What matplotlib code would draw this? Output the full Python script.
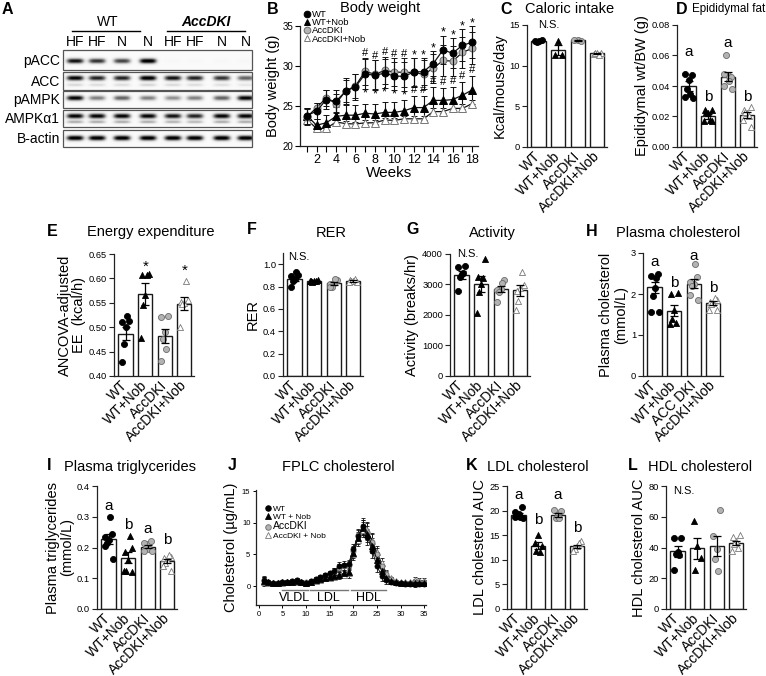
import numpy as np
import matplotlib
matplotlib.use('Agg')
import matplotlib.pyplot as plt
from matplotlib.lines import Line2D

plt.rcParams['font.family'] = ['Liberation Sans', 'DejaVu Sans']

# ---------------- data ----------------
groups = ['WT', 'WT+Nob', 'AccDKI', 'AccDKI+Nob']
groups_h = ['WT', 'WT+Nob', 'ACC DKI', 'AccDKI+Nob']

# A: western blot band darkness per lane
lane_labels = ['HF', 'HF', 'N', 'N', 'HF', 'HF', 'N', 'N']
blot_rows = ['pACC', 'ACC', 'pAMPK', 'AMPKα1', 'B-actin']
band_pacc = [0.85, 0.75, 0.70, 0.95, 0.02, 0.02, 0.02, 0.02]
band_acc = [0.90, 0.80, 0.80, 0.95, 0.85, 0.80, 0.75, 0.60]
band_pampk = [0.90, 0.50, 0.60, 0.50, 0.45, 0.50, 0.60, 0.90]
band_ampk = [0.90, 0.90, 0.90, 0.90, 0.85, 0.80, 0.90, 0.90]
band_actin = [0.95, 0.95, 0.95, 0.95, 0.95, 0.95, 0.95, 0.95]

# B: body weight
weeks = np.arange(1, 19)
bw_wt = [23.8, 24.35, 25.8, 25.6, 26.85, 27.4, 29.0, 28.85, 29.1, 28.75, 28.7, 29.25, 29.3, 30.3, 32.0, 31.6, 32.6, 32.95]
bw_wtnob = [23.8, 22.6, 22.9, 23.7, 23.85, 23.85, 24.1, 24.0, 24.2, 24.2, 24.4, 24.8, 24.8, 25.7, 25.7, 25.8, 26.35, 27.0]
bw_acc = [23.6, 24.8, 26.0, 25.3, 26.9, 27.5, 29.35, 28.95, 29.45, 29.25, 29.2, 29.2, 28.95, 29.7, 30.7, 30.6, 31.7, 32.2]
bw_accnob = [23.3, 22.2, 22.2, 23.0, 22.8, 22.75, 22.9, 22.9, 23.25, 23.2, 23.4, 23.4, 23.4, 24.3, 24.3, 24.7, 24.7, 25.3]
bw_wt_err = [1.0, 1.0, 1.2, 1.4, 1.6, 1.6, 1.9, 1.9, 1.8, 1.8, 1.8, 1.7, 1.7, 1.6, 1.8, 1.9, 2.0, 2.0]
bw_wtnob_err = [1.0, 0.8, 1.0, 1.2, 1.3, 1.3, 1.2, 1.3, 1.3, 1.3, 1.3, 1.5, 1.5, 1.7, 1.6, 1.6, 1.7, 1.8]
bw_acc_err = [1.0, 0.6, 1.0, 1.2, 1.4, 1.5, 1.7, 1.8, 1.7, 1.7, 1.8, 1.8, 1.8, 1.8, 1.9, 1.9, 1.9, 2.0]
bw_accnob_err = [0.5, 0.5, 0.4, 0.3, 0.3, 0.3, 0.3, 0.3, 0.3, 0.3, 0.3, 0.4, 0.4, 0.4, 0.4, 0.5, 0.5, 0.5]
bw_top_mark = ['', '', '', '', '', '', '#', '#', '#', '#', '#', '*', '*', '*', '*', '*', '*', '*']
bw_mid_mark = ['', '', '', '', '', '', '*', '*', '*', '*', '*', '#', '#', '#', '#', '#', '#', '#']

# C: caloric intake
cal_means = [13.0, 11.9, 13.1, 11.5]
cal_sems = [0.1, 0.6, 0.1, 0.1]
cal_pts = [[13.0, 13.0, 13.1, 12.9], [13.0, 11.3, 11.3], [13.1, 13.2, 13.0], [11.5, 11.4, 11.6, 11.5, 11.3]]

# D: epididymal fat
fat_means = [0.040, 0.020, 0.046, 0.021]
fat_sems = [0.0035, 0.0015, 0.003, 0.0017]
fat_pts = [[0.044, 0.048, 0.047, 0.038, 0.035, 0.033, 0.032],
           [0.022, 0.024, 0.024, 0.023, 0.018, 0.017, 0.017],
           [0.047, 0.048, 0.046, 0.060, 0.043, 0.040, 0.038],
           [0.022, 0.024, 0.026, 0.023, 0.020, 0.018, 0.013]]

# E: energy expenditure
ee_means = [0.487, 0.568, 0.482, 0.548]
ee_sems = [0.014, 0.022, 0.015, 0.013]
ee_pts = [[0.500, 0.510, 0.512, 0.465, 0.523, 0.428],
          [0.565, 0.607, 0.609, 0.545, 0.606, 0.478],
          [0.490, 0.520, 0.522, 0.475, 0.455, 0.430],
          [0.550, 0.552, 0.555, 0.548, 0.595, 0.500]]

# F: RER
rer_means = [0.87, 0.85, 0.83, 0.85]
rer_sems = [0.018, 0.005, 0.012, 0.005]
rer_pts = [[0.87, 0.89, 0.90, 0.85, 0.93, 0.80],
           [0.85, 0.85, 0.86, 0.84, 0.85, 0.85],
           [0.83, 0.82, 0.86, 0.80, 0.87, 0.80],
           [0.85, 0.86, 0.84, 0.85, 0.87, 0.84]]

# G: activity
act_means = [3310, 3010, 2840, 2810]
act_sems = [120, 260, 100, 180]
act_pts = [[3350, 3580, 3600, 3260, 3380, 2780],
           [3000, 3250, 3850, 2750, 3200, 2050],
           [2840, 2820, 3150, 2765, 3040, 2440],
           [2900, 2800, 2980, 2450, 3420, 2150]]

# H: plasma cholesterol
chol_means = [2.16, 1.59, 2.25, 1.77]
chol_sems = [0.14, 0.13, 0.11, 0.05]
chol_pts = [[2.15, 2.45, 2.50, 1.95, 2.38, 1.57, 1.57],
            [1.60, 2.00, 2.02, 1.40, 1.30, 1.28],
            [2.25, 2.30, 2.42, 2.20, 2.72, 1.98, 1.85],
            [1.78, 1.80, 1.85, 1.75, 1.90, 1.62, 1.60]]

# I: plasma triglycerides
tg_means = [0.227, 0.166, 0.203, 0.155]
tg_sems = [0.016, 0.018, 0.005, 0.007]
tg_pts = [[0.225, 0.235, 0.245, 0.215, 0.300, 0.205, 0.162],
          [0.160, 0.185, 0.200, 0.125, 0.238, 0.122, 0.120],
          [0.210, 0.215, 0.220, 0.200, 0.195, 0.190, 0.190],
          [0.160, 0.165, 0.170, 0.150, 0.175, 0.140, 0.125]]

# J: FPLC cholesterol
fractions = np.arange(1, 36)
fplc_wt = [0.9, 0.6, 0.5, 0.5, 0.6, 0.7, 0.8, 0.9, 0.6, 0.5, 0.8, 1.1, 1.4, 1.7, 2.0, 2.4, 3.2, 3.4, 3.5, 5.8, 7.9, 9.5, 7.8, 5.6, 3.2, 1.6, 0.9, 0.6, 0.5, 0.5, 0.4, 0.4, 0.4, 0.4, 0.4]
fplc_wtnob = [0.8, 0.6, 0.5, 0.5, 0.6, 0.6, 0.7, 0.8, 0.6, 0.5, 0.7, 0.9, 1.1, 1.3, 1.4, 1.6, 1.8, 2.0, 2.3, 5.3, 7.6, 9.2, 8.2, 6.4, 4.2, 2.4, 1.3, 0.8, 0.6, 0.5, 0.5, 0.5, 0.5, 0.5, 0.5]
fplc_acc = [0.8, 0.6, 0.5, 0.5, 0.6, 0.7, 0.8, 0.9, 0.7, 0.6, 0.8, 1.1, 1.4, 1.7, 2.0, 2.3, 2.9, 3.1, 3.3, 5.6, 8.0, 9.3, 8.6, 7.0, 5.0, 3.2, 1.9, 1.1, 0.7, 0.5, 0.5, 0.5, 0.6, 0.6, 0.6]
fplc_accnob = [0.7, 0.5, 0.5, 0.5, 0.5, 0.6, 0.7, 0.7, 0.6, 0.5, 0.6, 0.8, 1.0, 1.2, 1.3, 1.5, 1.7, 1.8, 2.0, 5.0, 7.3, 8.9, 8.8, 7.2, 5.4, 3.6, 2.1, 1.2, 0.8, 0.6, 0.6, 0.6, 0.9, 0.8, 0.8]
fplc_err = [0.7, 0.2, 0.2, 0.2, 0.2, 0.3, 0.3, 0.3, 0.2, 0.2, 0.2, 0.3, 0.3, 0.3, 0.4, 0.5, 0.6, 0.6, 0.7, 0.8, 1.0, 1.2, 1.3, 1.2, 1.0, 0.8, 0.5, 0.3, 0.2, 0.2, 0.2, 0.2, 0.5, 0.4, 0.4]
fplc_regions = ['VLDL', 'LDL', 'HDL']
fplc_region_bounds = [(4.85, 10.4), (10.8, 18.8), (19.5, 26.9)]

# K: LDL AUC
ldl_means = [19.2, 12.9, 19.2, 12.8]
ldl_sems = [0.3, 0.8, 0.4, 0.3]
ldl_pts = [[19.3, 19.8, 20.8, 19.0, 18.8, 18.6, 18.4],
           [15.0, 13.5, 12.8, 11.8, 11.5],
           [19.2, 20.1, 20.0, 18.5, 18.4],
           [12.8, 12.5, 13.8, 12.2, 13.5, 11.8]]

# L: HDL AUC
hdl_means = [37.5, 39.4, 41.0, 43.0]
hdl_sems = [3.4, 6.7, 6.8, 1.4]
hdl_pts = [[37.0, 46.0, 46.5, 35.5, 35.0, 25.5],
           [41.2, 57.5, 33.4, 25.4],
           [39.0, 47.7, 64.4, 32.5, 25.0],
           [44.0, 47.0, 48.0, 42.0, 40.0, 38.0]]

# ---------------- style ----------------
W, H = 766, 676
fig = plt.figure(figsize=(W / 100, H / 100), dpi=100)

styles = [dict(marker='o', fc='black', ec='black'),
          dict(marker='^', fc='black', ec='black'),
          dict(marker='o', fc='#b3b3b3', ec='#6a6a6a'),
          dict(marker='^', fc='white', ec='#7a7a7a')]
jitter = np.array([0.0, -0.17, 0.17, -0.09, 0.09, -0.2, 0.2])


def px_axes(x0, y0, x1, y1):
    return fig.add_axes([x0 / W, 1 - y1 / H, (x1 - x0) / W, (y1 - y0) / H])


def style_axes(ax):
    for s in ['top', 'right']:
        ax.spines[s].set_visible(False)
    for s in ['left', 'bottom']:
        ax.spines[s].set_linewidth(0.9)
        ax.spines[s].set_color('#222222')


BARW = 80  # px for xlim (-0.6, 3.5)


def bar_panel(x0, y0, y1, means, sems, pts, ylim, yticks, yfmt, ylabel,
              labels=groups, letters=None, letter_y=None, ns=None, stars=None):
    ax = px_axes(x0, y0, x0 + BARW, y1)
    style_axes(ax)
    x = np.arange(4)
    ax.bar(x, means, width=0.74, color='white', edgecolor='#1a1a1a', linewidth=1.0, zorder=1)
    for i in range(4):
        p = np.array(pts[i])
        st = styles[i]
        ax.scatter(i + jitter[:len(p)], p, s=19, marker=st['marker'], facecolor=st['fc'],
                   edgecolor=st['ec'], linewidth=0.6, zorder=3, clip_on=False)
    ax.errorbar(x, means, yerr=sems, fmt='none', ecolor='black', elinewidth=0.9,
                capsize=3, capthick=0.9, zorder=4)
    ax.set_xlim(-0.6, 3.5)
    ax.set_ylim(*ylim)
    ax.set_yticks(yticks)
    ax.set_yticklabels([yfmt.format(v) for v in yticks])
    ax.set_xticks(x)
    ax.set_xticklabels(labels, rotation=45, ha='right', va='center', rotation_mode='anchor')
    ax.tick_params(axis='y', labelsize=6.7, length=3.5, width=0.8, pad=1.5, color='#222222')
    ax.tick_params(axis='x', labelsize=10, length=0, pad=5)
    ax.set_ylabel(ylabel, fontsize=10.5, labelpad=2, linespacing=1.05)
    if letters is not None:
        for i, (t, yy) in enumerate(zip(letters, letter_y)):
            ax.text(i, yy, t, ha='center', va='center', fontsize=11)
    if ns is not None:
        ax.text(ns[0], ns[1], 'N.S.', ha='center', va='center', fontsize=8)
    if stars is not None:
        for i, yy in stars:
            ax.text(i, yy, '*', ha='center', va='center', fontsize=11)
    return ax


# overlay axes for free text and the blot
ov = fig.add_axes([0, 0, 1, 1])
ov.axis('off')

# ---------------- A: western blot ----------------
lane_x = [75, 97, 122, 148, 173, 195, 222, 246]
row_boxes = [(50, 70), (72, 90), (91, 108), (110, 127), (130, 147)]
row_bands = [band_pacc, band_acc, band_pampk, band_ampk, band_actin]
band_center = [61, 78, 98, 116, 138]
second_band = [None, (85, 0.25), None, (122, 0.45), None]
bx0, bx1 = 63, 252
for (y0, y1), inten, bc, sb in zip(row_boxes, row_bands, band_center, second_band):
    xs = np.linspace(bx0, bx1, 380)
    ys = np.linspace(y0, y1, 60)
    X, Y = np.meshgrid(xs, ys)
    img = np.full_like(X, 0.04)
    for lx, v in zip(lane_x, inten):
        hprof = np.exp(-((X - lx) / 8.8) ** 4)
        img += 1.1 * v * hprof * np.exp(-((Y - bc) / 2.7) ** 2)
        if sb is not None:
            img += v * sb[1] * hprof * np.exp(-((Y - sb[0]) / 1.6) ** 2)
    img = np.clip(img, 0, 1)
    ov.imshow(img, cmap='Greys', vmin=0, vmax=1, extent=(bx0, bx1, y1, y0),
              aspect='auto', interpolation='bilinear', origin='upper')
    ov.add_patch(plt.Rectangle((bx0, y0), bx1 - bx0, y1 - y0, fill=False,
                               edgecolor='#555555', linewidth=0.9))
for name, (y0, y1) in zip(blot_rows, row_boxes):
    ov.text(60, (y0 + y1) / 2 + 0.5, name, ha='right', va='center', fontsize=10)
for lx, lab in zip(lane_x, lane_labels):
    ov.text(lx, 41.5, lab, ha='center', va='center', fontsize=10)
ov.text(108, 22, 'WT', ha='center', va='center', fontsize=10)
ov.text(206, 22, 'AccDKI', ha='center', va='center', fontsize=10, style='italic', fontweight='bold')
ov.plot([72, 140], [31, 31], color='black', lw=1.0)
ov.plot([167, 245], [31, 31], color='black', lw=1.0)

# ---------------- B: body weight ----------------
axB = px_axes(300, 26, 478, 146)
style_axes(axB)
bw_series = [(bw_wt, bw_wt_err), (bw_wtnob, bw_wtnob_err), (bw_acc, bw_acc_err), (bw_accnob, bw_accnob_err)]
for k in [3, 1, 2, 0]:
    v, e = bw_series[k]
    st = styles[k]
    axB.errorbar(weeks, v, yerr=e, color='#111111', lw=0.9, elinewidth=0.8, capsize=2.2,
                 capthick=0.8, marker=st['marker'], ms=5 if st['marker'] == 'o' else 5.5,
                 mfc=st['fc'], mec=st['ec'] if k != 3 else '#777777', mew=0.7, zorder=3 + (k == 0))
wt_a, acc_a = np.array(bw_wt), np.array(bw_acc)
wte, acce = np.array(bw_wt_err), np.array(bw_acc_err)
nob_a, nobe = np.array(bw_wtnob), np.array(bw_wtnob_err)
for i, wk in enumerate(weeks):
    top = max(wt_a[i] + wte[i], acc_a[i] + acce[i])
    if bw_top_mark[i]:
        axB.text(wk, top + (0.55 if bw_top_mark[i] == '#' else 0.35), bw_top_mark[i],
                 ha='center', va='center', fontsize=8 if bw_top_mark[i] == '#' else 9)
    if bw_mid_mark[i] == '*':
        low = min(wt_a[i] - wte[i], acc_a[i] - acce[i])
        axB.text(wk, low - 0.55, '*', ha='center', va='center', fontsize=9)
    elif bw_mid_mark[i] == '#':
        axB.text(wk, nob_a[i] + nobe[i] + 0.75, '#', ha='center', va='center', fontsize=8)
axB.set_xlim(0.3, 18.6)
axB.set_ylim(20, 35)
axB.set_yticks([20, 25, 30, 35])
axB.set_xticks(np.arange(2, 19, 2))
axB.set_xticks(np.arange(1, 19, 2), minor=True)
axB.tick_params(axis='y', labelsize=7, length=3.5, width=0.8, pad=1.5)
axB.tick_params(axis='x', which='major', labelsize=9, length=4, width=0.8, pad=2)
axB.tick_params(axis='x', which='minor', length=4, width=0.8)
axB.set_xlabel('Weeks', fontsize=11, labelpad=0)
axB.set_ylabel('Body weight (g)', fontsize=10.5, labelpad=2)
hB = [Line2D([], [], ls='none', marker=s['marker'], ms=4.8, mfc=s['fc'], mec=s['ec'], mew=0.7) for s in styles]
legB = fig.legend(hB, groups, loc='upper left', bbox_to_anchor=(303 / W, 1 - 10 / H), fontsize=6.8,
                  frameon=False, labelspacing=-0.08, handletextpad=0.1, handlelength=0.9,
                  borderpad=0, borderaxespad=0)

# ---------------- C ----------------
bar_panel(527, 25, 147, cal_means, cal_sems, cal_pts, (0, 15), [0, 5, 10, 15], '{:.0f}',
          'Kcal/mouse/day', ns=(0.53, 15.0))

# ---------------- D ----------------
bar_panel(677, 25, 147, fat_means, fat_sems, fat_pts, (0, 0.08), [0, 0.02, 0.04, 0.06, 0.08], '{:.2f}',
          'Epididymal wt/BW (g)', letters=['a', 'b', 'a', 'b'], letter_y=[0.0625, 0.033, 0.068, 0.033])

# ---------------- E ----------------
bar_panel(114, 254, 376, ee_means, ee_sems, ee_pts, (0.40, 0.65), [0.40, 0.45, 0.50, 0.55, 0.60, 0.65], '{:.2f}',
          'ANCOVA-adjusted\nEE  (kcal/h)', stars=[(1, 0.624), (3, 0.616)])

# ---------------- F ----------------
bar_panel(283, 253, 376, rer_means, rer_sems, rer_pts, (0, 1.1), [0, 0.2, 0.4, 0.6, 0.8, 1.0], '{:.1f}',
          'RER', ns=(0.2, 1.06))

# ---------------- G ----------------
bar_panel(450, 254, 376, act_means, act_sems, act_pts, (0, 4000), [0, 1000, 2000, 3000, 4000], '{:.0f}',
          'Activity (breaks/hr)', ns=(0.32, 4000))

# ---------------- H ----------------
bar_panel(643, 253, 376, chol_means, chol_sems, chol_pts, (0, 3), [0, 1, 2, 3], '{:.0f}',
          'Plasma cholesterol\n(mmol/L)', labels=groups_h, letters=['a', 'b', 'a', 'b'],
          letter_y=[2.77, 2.27, 2.93, 2.14])

# ---------------- I ----------------
bar_panel(97, 486, 609, tg_means, tg_sems, tg_pts, (0, 0.4), [0, 0.1, 0.2, 0.3, 0.4], '{:.1f}',
          'Plasma triglycerides\n(mmol/L)', letters=['a', 'b', 'a', 'b'],
          letter_y=[0.335, 0.273, 0.259, 0.224])

# ---------------- J ----------------
axJ = px_axes(256, 490, 426, 605)
style_axes(axJ)
fplc_series = [fplc_wt, fplc_wtnob, fplc_acc, fplc_accnob]
for k in [3, 2, 1, 0]:
    st = styles[k]
    axJ.errorbar(fractions, fplc_series[k], yerr=fplc_err, color='#111111', lw=0.7, elinewidth=0.6,
                 capsize=1.6, capthick=0.6, marker=st['marker'], ms=3.6 if st['marker'] == 'o' else 4,
                 mfc=st['fc'], mec=st['ec'], mew=0.6, zorder=3)
for name, (a, b) in zip(fplc_regions, fplc_region_bounds):
    axJ.plot([a, b], [-0.6, -0.6], color='#777777', lw=1.0)
    axJ.text((a + b) / 2, -1.95, name, ha='center', va='center', fontsize=9)
axJ.set_xlim(-0.6, 35.4)
axJ.set_ylim(-3, 15.2)
axJ.set_yticks([0, 5, 10, 15])
axJ.set_xticks(np.arange(0, 36, 5))
axJ.tick_params(labelsize=5.5, length=2.5, width=0.7, pad=1.5)
axJ.set_ylabel('Cholesterol (µg/mL)', fontsize=10.5, labelpad=3)
hJ = [Line2D([], [], ls='none', marker=s['marker'], ms=4, mfc=s['fc'], mec=s['ec'], mew=0.6) for s in styles]
legJ = axJ.legend(hJ, ['WT', 'WT + Nob', 'AccDKI', 'AccDKI + Nob'], loc='upper left',
                  bbox_to_anchor=(0.05, 0.87), fontsize=6, frameon=False, labelspacing=0.05,
                  handletextpad=0.1, handlelength=0.9, borderpad=0, borderaxespad=0)
legJ.get_texts()[2].set_fontsize(7.5)

# ---------------- K ----------------
bar_panel(507, 486, 609, ldl_means, ldl_sems, ldl_pts, (0, 25), [0, 5, 10, 15, 20, 25], '{:.0f}',
          'LDL cholesterol AUC', letters=['a', 'b', 'a', 'b'], letter_y=[23.2, 18.1, 23.2, 16.4])

# ---------------- L ----------------
bar_panel(666, 486, 609, hdl_means, hdl_sems, hdl_pts, (0, 80), [0, 20, 40, 60, 80], '{:.0f}',
          'HDL cholesterol AUC', ns=(0.3, 76.5))

# ---------------- titles and panel letters ----------------
titles = [('Body weight', 380, 8), ('Caloric intake', 570, 9),
          ('Energy expenditure', 151, 232), ('RER', 331, 233), ('Activity', 492, 233),
          ('Plasma cholesterol', 678, 233), ('Plasma triglycerides', 130, 467),
          ('FPLC cholesterol', 338, 467), ('LDL cholesterol', 538, 467), ('HDL cholesterol', 700, 467)]
for t, x, y in titles:
    ov.text(x, y, t, ha='center', va='center', fontsize=10.5)
# title squeezed between panel letter D and the right edge, as in the reference
ov.text(765, 9, 'Epididymal fat', ha='right', va='center', fontsize=8.4)
letters_pos = [('A', 7, 10), ('B', 273, 10), ('C', 506, 10), ('D', 682, 10), ('E', 52, 232),
               ('F', 252, 230), ('G', 413, 230), ('H', 592, 232), ('I', 49, 465), ('J', 232, 465),
               ('K', 472, 465), ('L', 633, 465)]
for t, x, y in letters_pos:
    ov.text(x, y, t, ha='center', va='center', fontsize=11.5, fontweight='bold')

ov.set_xlim(0, W)
ov.set_ylim(H, 0)

fig.savefig('out.png', dpi=100)
